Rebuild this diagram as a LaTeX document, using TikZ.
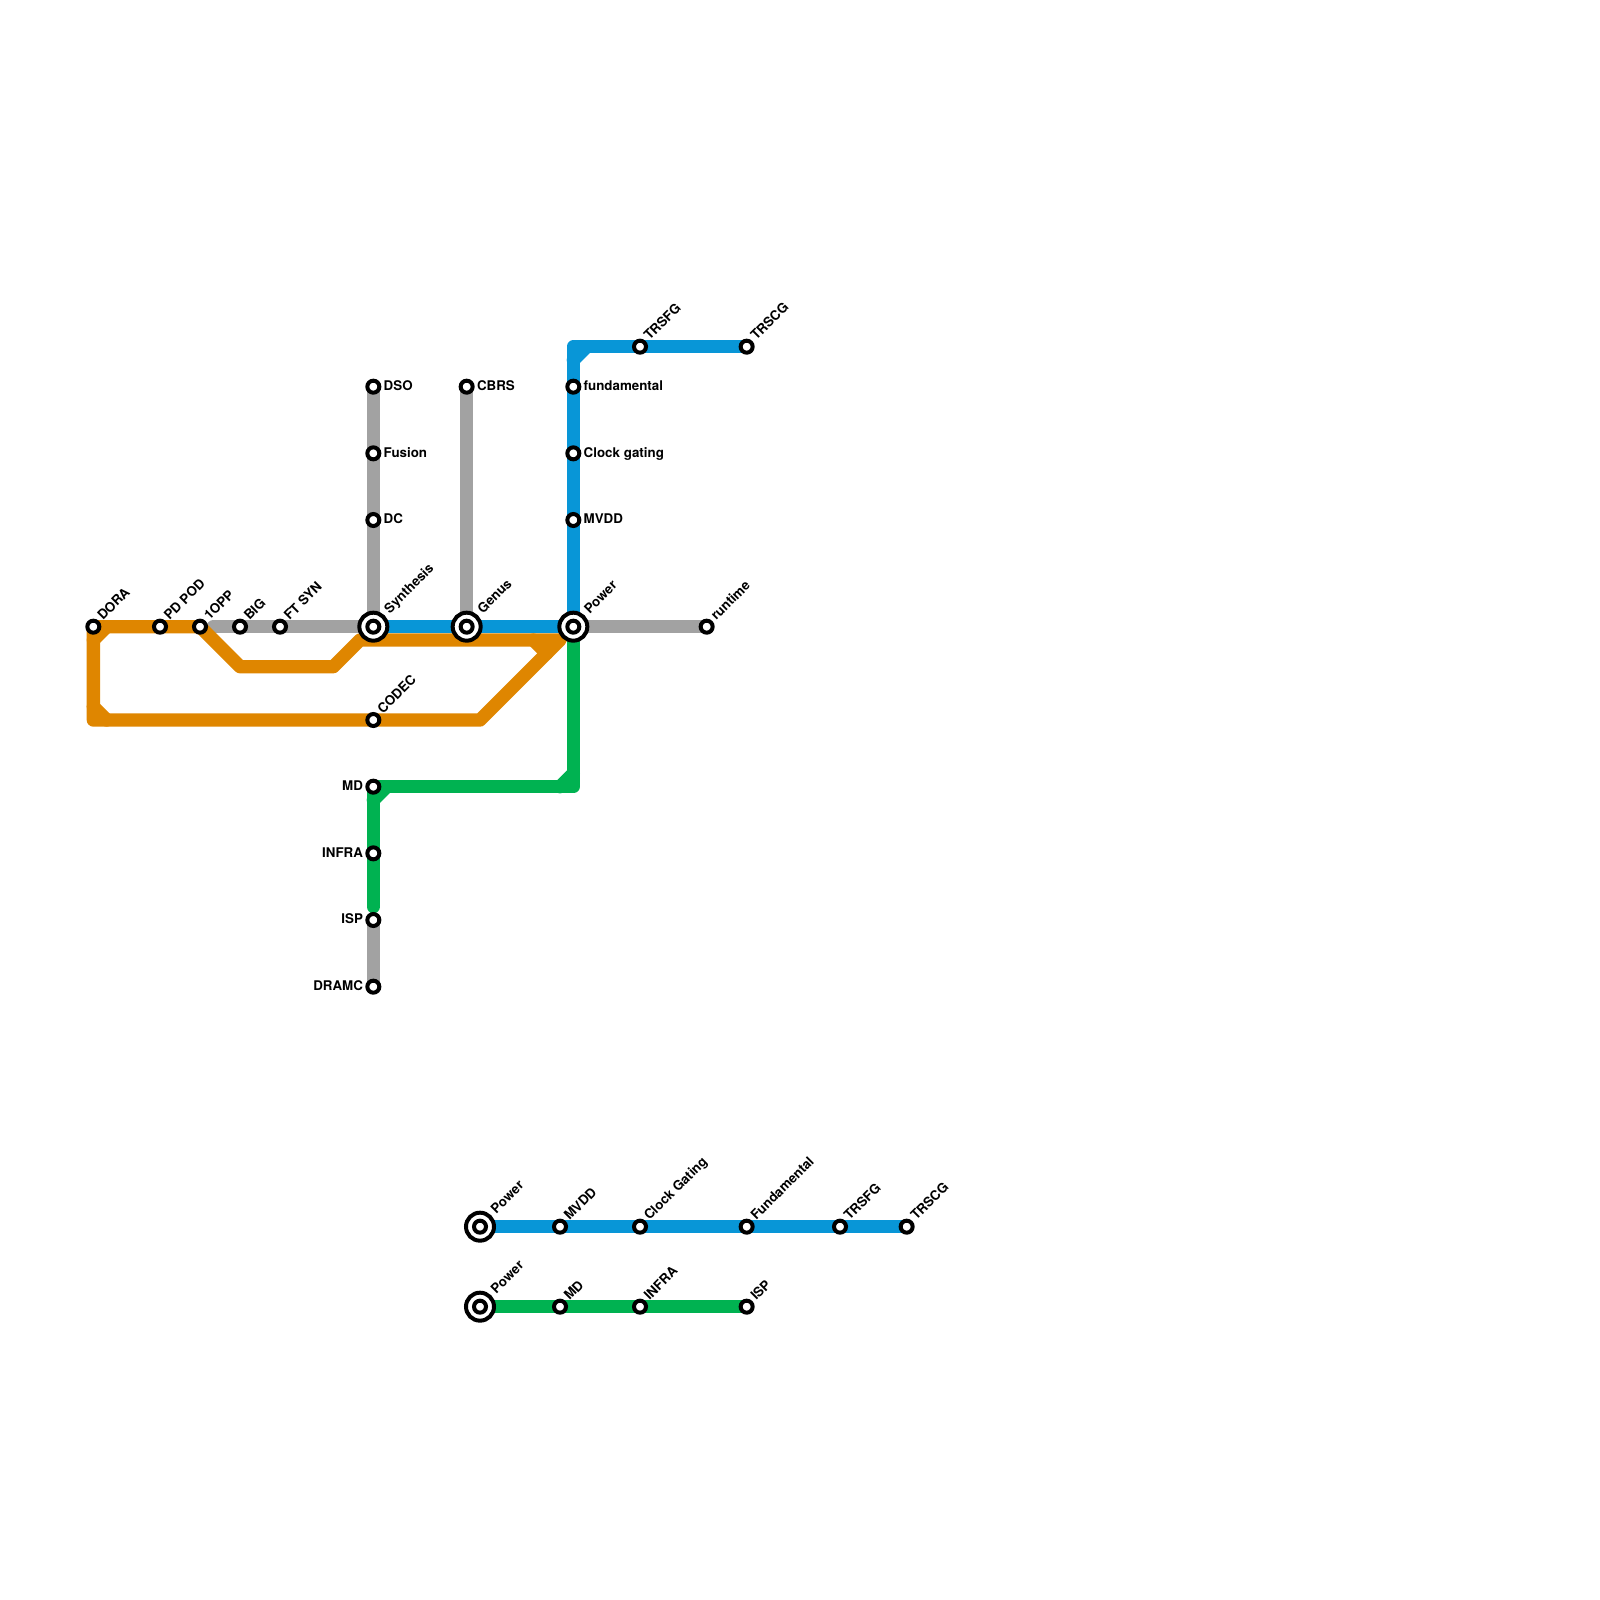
\documentclass[tikz,border=0pt]{standalone}
\usepackage{fontspec}
\setmainfont{TeX Gyre Heros}
\usetikzlibrary{positioning, backgrounds}
\definecolor{metroblue}{HTML}{0896D7}
\definecolor{metroorange}{HTML}{DF8600}
\definecolor{metrogray}{HTML}{A2A2A2}
\definecolor{metrogreen}{HTML}{00B251}
\newcommand{\gu}{6.6667pt}
\tikzstyle{metro}=[x=\gu, y=-\gu, on grid, font=\bfseries\fontsize{6.67}{8}\selectfont]
\tikzstyle{stn}=[circle, draw, fill=white, line width=2pt, minimum size=6pt, inner sep=0pt]
\tikzstyle{hub}=[circle, draw, fill=white, line width=2pt, minimum size=14pt, inner sep=0pt]
\tikzstyle{rail}=[line width=6.67pt, line join=round, line cap=round]
\tikzstyle{rside}=[anchor=west, inner sep=0pt, text height=4.8pt, text depth=0pt, yshift=0.5pt]
\tikzstyle{lside}=[anchor=east, inner sep=0pt, text height=4.8pt, text depth=0pt, yshift=0.5pt]
\tikzstyle{tilt}=[anchor=west, rotate=45, inner sep=0pt, text height=4.8pt, text depth=0pt]

\begin{document}
\begin{tikzpicture}[metro]
  \useasboundingbox (0,0) rectangle (120,120);
  % top map
  \node[stn] (dora) at (7,47) {};
  \node[stn] (pdpod) [right=5*\gu of dora] {};
  \node[stn] (oneopp) [right=3*\gu of pdpod] {};
  \node[stn] (big) [right=3*\gu of oneopp] {};
  \node[stn] (ftsyn) [right=3*\gu of big] {};
  \node[hub] (synthesis) [right=7*\gu of ftsyn] {};
  \node[stn] (synthesisc) at (synthesis) {};
  \node[hub] (genus) [right=7*\gu of synthesis] {};
  \node[stn] (genusc) at (genus) {};
  \node[hub] (power) [right=8*\gu of genus] {};
  \node[stn] (powerc) at (power) {};
  \node[stn] (runtime) [right=10*\gu of power] {};
  \node[stn] (dc) [above=8*\gu of synthesis] {};
  \node[stn] (fusion) [above=5*\gu of dc] {};
  \node[stn] (dso) [above=5*\gu of fusion] {};
  \node[stn] (cbrs) [above=18*\gu of genus] {};
  \node[stn] (mvdd) [above=8*\gu of power] {};
  \node[stn] (clockgating) [above=5*\gu of mvdd] {};
  \node[stn] (fundamental) [above=5*\gu of clockgating] {};
  \node[stn] (trsfg) [above right=3*\gu and 5*\gu of fundamental] {};
  \node[stn] (trscg) [right=8*\gu of trsfg] {};
  \node[stn] (codec) [below=7*\gu of synthesis] {};
  \node[stn] (md) [below=5*\gu of codec] {};
  \node[stn] (infra) [below=5*\gu of md] {};
  \node[stn] (isp) [below=5*\gu of infra] {};
  \node[stn] (dramc) [below=5*\gu of isp] {};
  % legend rows
  \node[hub] (bluepower) at (36,92) {};
  \node[stn] (bluepowerc) at (bluepower) {};
  \node[stn] (bluemvdd) [right=6*\gu of bluepower] {};
  \node[stn] (blueclock) [right=6*\gu of bluemvdd] {};
  \node[stn] (bluefund) [right=8*\gu of blueclock] {};
  \node[stn] (bluetrsfg) [right=7*\gu of bluefund] {};
  \node[stn] (bluetrscg) [right=5*\gu of bluetrsfg] {};
  \node[hub] (greenpower) at (36,98) {};
  \node[stn] (greenpowerc) at (greenpower) {};
  \node[stn] (greenmd) [right=6*\gu of greenpower] {};
  \node[stn] (greeninfra) [right=6*\gu of greenmd] {};
  \node[stn] (greenisp) [right=8*\gu of greeninfra] {};
  % bends
  \coordinate (o1) at (18,50);
  \coordinate (o2) at (25,50);
  \coordinate (o3) at (27,48);
  \coordinate (o4) at (42,48);
  \coordinate (o5) at (36,54);
  \coordinate (o6) at (7,54);
  \coordinate (o7) at (7,48);
  \coordinate (o8) at (8,47);
  \coordinate (o9) at (7,53);
  \coordinate (o10) at (8,54);
  \coordinate (o11) at (40,48);
  \coordinate (o12) at (41,49);
  \coordinate (b1) at (43,26);
  \coordinate (b2) at (43,27);
  \coordinate (b3) at (44,26);
  \coordinate (g1) at (43,59);
  \coordinate (g2) at (42,59);
  \coordinate (g3) at (43,58);
  \coordinate (g4) at (28,60);
  \coordinate (g5) at (29,59);
  \coordinate (g6) at (28,68);
  \coordinate (a1) at (16,47);
  % lines
  \begin{scope}[on background layer]
    \draw[rail, metrogray] (a1) -- (synthesis.center);
    \draw[rail, metrogray] (dso.center) -- (synthesis.center);
    \draw[rail, metrogray] (cbrs.center) -- (genus.center);
    \draw[rail, metrogray] (power.center) -- (runtime.center);
    \draw[rail, metrogray] (isp.center) -- (dramc.center);
    \draw[rail, metroorange] (dora.center) -- (oneopp.center) -- (o1) -- (o2) -- (o3) -- (o4) -- (o5) -- (o6) -- cycle;
    \draw[rail, metroorange] (o7) -- (o8);
    \draw[rail, metroorange] (o9) -- (o10);
    \draw[rail, metroorange] (o11) -- (o12);
    \draw[rail, metroblue] (synthesis.center) -- (power.center);
    \draw[rail, metroblue] (power.center) -- (b1) -- (trscg.center);
    \draw[rail, metroblue] (b2) -- (b3);
    \draw[rail, metrogreen] (power.center) -- (g1) -- (md.center) -- (g6);
    \draw[rail, metrogreen] (g2) -- (g3);
    \draw[rail, metrogreen] (g4) -- (g5);
    \draw[rail, metroblue] (bluepower.center) -- (bluetrscg.center);
    \draw[rail, metrogreen] (greenpower.center) -- (greenisp.center);
  \end{scope}
  % labels
  \node (doralbl) [above right=4.4pt and 3pt of dora, tilt] {DORA};
  \node (pdpodlbl) [above right=4.4pt and 3pt of pdpod, tilt] {PD POD};
  \node (oneopplbl) [above right=4.4pt and 3pt of oneopp, tilt] {1OPP};
  \node (biglbl) [above right=4.4pt and 3pt of big, tilt] {BIG};
  \node (ftsynlbl) [above right=4.4pt and 3pt of ftsyn, tilt] {FT SYN};
  \node (synthesislbl) [above right=7.8pt and 6.4pt of synthesis, tilt] {Synthesis};
  \node (genuslbl) [above right=7.8pt and 6.4pt of genus, tilt] {Genus};
  \node (powerlbl) [above right=7.8pt and 6.4pt of power, tilt] {Power};
  \node (runtimelbl) [above right=4.4pt and 3pt of runtime, tilt] {runtime};
  \node (trsfglbl) [above right=4.4pt and 3pt of trsfg, tilt] {TRSFG};
  \node (trscglbl) [above right=4.4pt and 3pt of trscg, tilt] {TRSCG};
  \node (codeclbl) [above right=4.4pt and 3pt of codec, tilt] {CODEC};
  \node (dsolbl) [right=5pt of dso, rside] {DSO};
  \node (fusionlbl) [right=5pt of fusion, rside] {Fusion};
  \node (dclbl) [right=5pt of dc, rside] {DC};
  \node (cbrslbl) [right=5pt of cbrs, rside] {CBRS};
  \node (fundamentallbl) [right=5pt of fundamental, rside] {fundamental};
  \node (clockgatinglbl) [right=5pt of clockgating, rside] {Clock gating};
  \node (mvddlbl) [right=5pt of mvdd, rside] {MVDD};
  \node (mdlbl) [left=5pt of md, lside] {MD};
  \node (infralbl) [left=5pt of infra, lside] {INFRA};
  \node (isplbl) [left=5pt of isp, lside] {ISP};
  \node (dramclbl) [left=5pt of dramc, lside] {DRAMC};
  \node (bluepowerlbl) [above right=7.8pt and 6.4pt of bluepower, tilt] {Power};
  \node (bluemvddlbl) [above right=4.4pt and 3pt of bluemvdd, tilt] {MVDD};
  \node (blueclocklbl) [above right=4.4pt and 3pt of blueclock, tilt] {Clock Gating};
  \node (bluefundlbl) [above right=4.4pt and 3pt of bluefund, tilt] {Fundamental};
  \node (bluetrsfglbl) [above right=4.4pt and 3pt of bluetrsfg, tilt] {TRSFG};
  \node (bluetrscglbl) [above right=4.4pt and 3pt of bluetrscg, tilt] {TRSCG};
  \node (greenpowerlbl) [above right=7.8pt and 6.4pt of greenpower, tilt] {Power};
  \node (greenmdlbl) [above right=4.4pt and 3pt of greenmd, tilt] {MD};
  \node (greeninfralbl) [above right=4.4pt and 3pt of greeninfra, tilt] {INFRA};
  \node (greenisplbl) [above right=4.4pt and 3pt of greenisp, tilt] {ISP};
\end{tikzpicture}
\end{document}
